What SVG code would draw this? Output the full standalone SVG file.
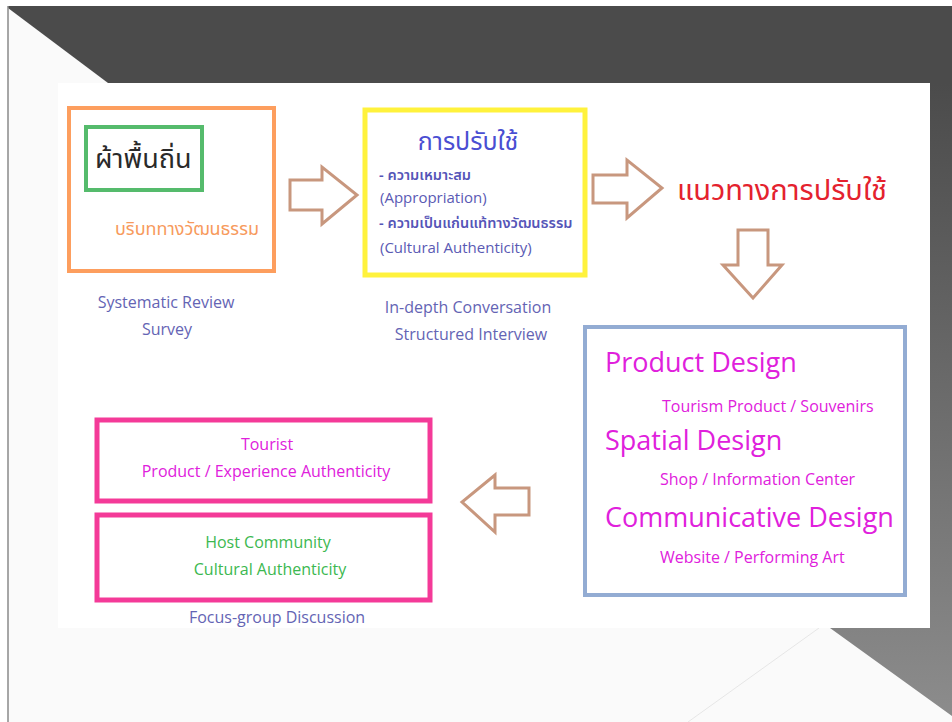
<svg xmlns="http://www.w3.org/2000/svg" width="952" height="722" viewBox="0 0 952 722">
<style>
.lat{font-family:"Open Sans","Noto Sans","Liberation Sans",sans-serif}
.th{font-family:"Noto Sans Thai","Noto Sans Thai Looped","Noto Sans","DejaVu Sans",sans-serif}
.sub{fill:#6464b4;font-size:16px}
.arrow{fill:#ffffff;stroke:#c8977e;stroke-width:3;stroke-linejoin:miter}
.mag{fill:#e020dc}
</style>
<defs>
<linearGradient id="gr" gradientUnits="userSpaceOnUse" x1="0" y1="83" x2="0" y2="716">
<stop offset="0" stop-color="#4b4b4b"/>
<stop offset="1" stop-color="#8c8c8c"/>
</linearGradient>
</defs>
<rect x="0" y="0" width="952" height="722" fill="#ffffff"/>
<g id="background">
<rect x="8" y="6" width="944" height="716" fill="#fafafa"/>
<polygon points="930,83 952,83 952,716 830,628 930,628" fill="url(#gr)"/>
<polygon points="8,6 952,6 952,83 108,83 8,8" fill="#4b4b4b"/>
<line x1="8" y1="6" x2="8" y2="722" stroke="#8a8a8a" stroke-width="1.5"/>
<line x1="819" y1="628" x2="688" y2="722" stroke="#e6e6e6" stroke-width="1"/>
<rect x="58" y="83" width="872" height="545" fill="#ffffff"/>
</g>
<g id="connectors">
<polygon class="arrow" points="290,180 322,180 322,167 357,195 322,224 322,210 290,210"/>
<polygon class="arrow" points="593,175 627,175 627,160 662,188 627,218 627,203 593,203"/>
<polygon class="arrow" points="738,230 768,230 768,265 782,265 753,298 723,265 738,265"/>
<polygon class="arrow" points="529,488 495,488 495,475 462,502 495,532 495,515 529,515"/>
</g>
<g id="node-context">
<rect x="69" y="108" width="205" height="163" fill="none" stroke="#fd9e5e" stroke-width="4"/>
<rect x="86" y="127" width="116" height="63" fill="none" stroke="#55bb6c" stroke-width="4"/>
<text class="th" x="95" y="168" font-size="27" fill="#2a2a2a">ผ้าพื้นถิ่น</text>
<text class="th" x="115" y="235" font-size="18" fill="#f79a5c">บริบททางวัฒนธรรม</text>
<text class="lat sub" x="166" y="308" text-anchor="middle">Systematic Review</text>
<text class="lat sub" x="167" y="335" text-anchor="middle">Survey</text>
</g>
<g id="node-adaptation">
<rect x="365" y="110" width="220" height="165" fill="none" stroke="#fff23c" stroke-width="5"/>
<text class="th" x="468" y="150" font-size="25" fill="#4a4ed2" text-anchor="middle">การปรับใช้</text>
<text class="th" x="379" y="180" font-size="14.5" font-weight="600" fill="#5555b8">-  ความเหมาะสม</text>
<text class="lat" x="380" y="203" font-size="15" fill="#5a5ab4">(Appropriation)</text>
<text class="th" x="379" y="228" font-size="14.5" font-weight="600" fill="#5555b8">-  ความเป็นแก่นแท้ทางวัฒนธรรม</text>
<text class="lat" x="380" y="253" font-size="15" fill="#5a5ab4">(Cultural Authenticity)</text>
<text class="lat sub" x="468" y="313" text-anchor="middle">In-depth Conversation</text>
<text class="lat sub" x="471" y="340" text-anchor="middle">Structured Interview</text>
</g>
<g id="node-guideline">
<text class="th" x="677" y="200" font-size="29" fill="#e4222e">แนวทางการปรับใช้</text>
</g>
<g id="node-design">
<rect x="585" y="327" width="320" height="268" fill="none" stroke="#93acd3" stroke-width="4"/>
<text class="lat mag" x="605" y="372" font-size="27">Product Design</text>
<text class="lat mag" x="662" y="412" font-size="16">Tourism Product / Souvenirs</text>
<text class="lat mag" x="605" y="450" font-size="27">Spatial Design</text>
<text class="lat mag" x="660" y="485" font-size="16">Shop / Information Center</text>
<text class="lat mag" x="605" y="527" font-size="27">Communicative Design</text>
<text class="lat mag" x="660" y="563" font-size="16">Website / Performing Art</text>
</g>
<g id="node-tourist">
<rect x="97" y="420" width="333" height="81" fill="none" stroke="#f43a98" stroke-width="5"/>
<text class="lat mag" x="267" y="450" font-size="16" text-anchor="middle">Tourist</text>
<text class="lat mag" x="266" y="477" font-size="16" text-anchor="middle">Product / Experience Authenticity</text>
</g>
<g id="node-host">
<rect x="97" y="515" width="333" height="85" fill="none" stroke="#f43a98" stroke-width="5"/>
<text class="lat" x="268" y="548" font-size="16" fill="#3cb850" text-anchor="middle">Host Community</text>
<text class="lat" x="270" y="575" font-size="16" fill="#3cb850" text-anchor="middle">Cultural Authenticity</text>
<text class="lat sub" x="277" y="623" text-anchor="middle">Focus-group Discussion</text>
</g>
</svg>
